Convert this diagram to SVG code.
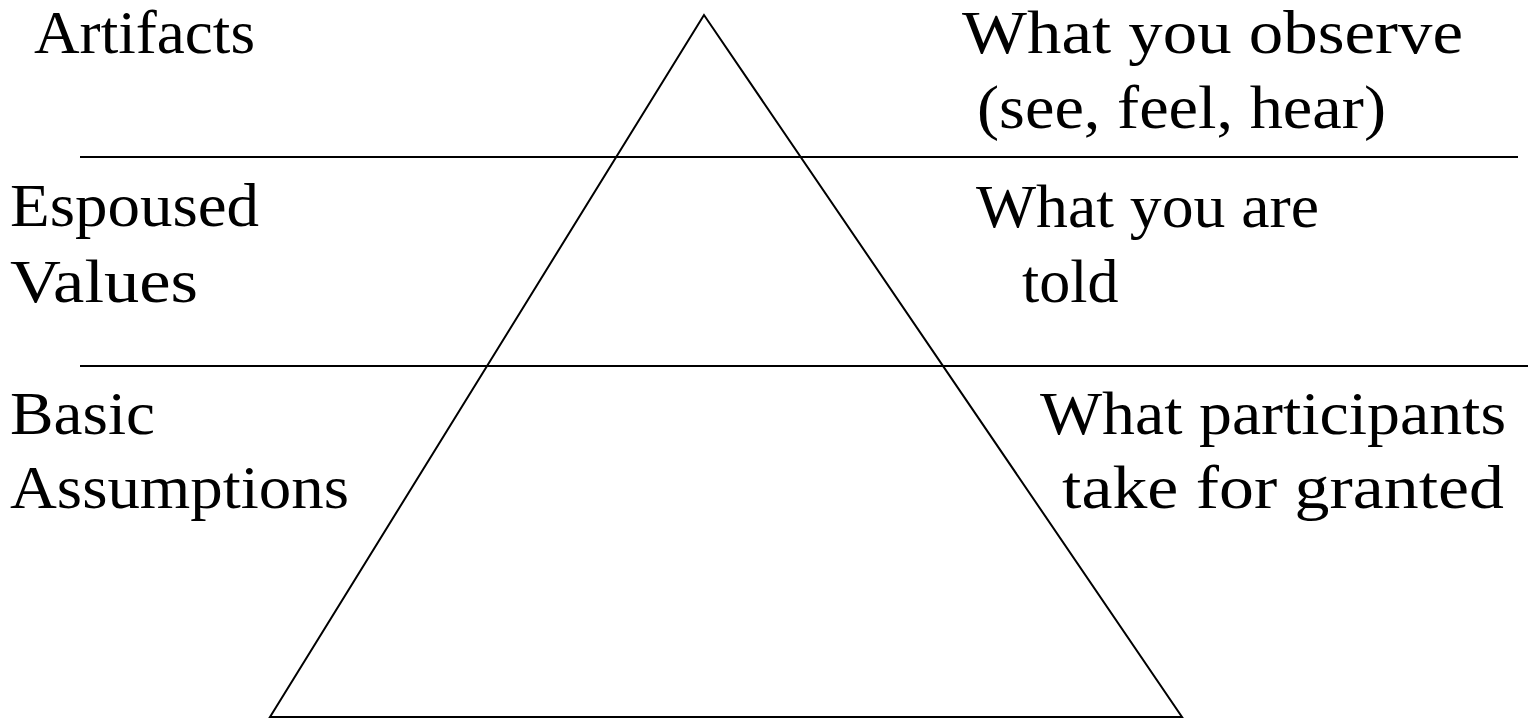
<svg xmlns="http://www.w3.org/2000/svg" width="1528" height="719" viewBox="0 0 1528 719">
<style>
.t{font-family:"Liberation Serif","Times New Roman",serif;font-size:62px;fill:#000}
.l{stroke:#000;stroke-width:2;fill:none}
</style>
<rect width="1528" height="719" fill="#fff"/>
<g id="connectors">
<polygon id="pyramid" class="l" points="704,15 270,717 1182,717"/>
<line class="l" x1="80" y1="157" x2="1518" y2="157"/>
<line class="l" x1="80" y1="366" x2="1528" y2="366"/>
</g>
<g id="artifacts">
<text class="t" x="34" y="53" textLength="221" lengthAdjust="spacingAndGlyphs">Artifacts</text>
<text class="t" x="962" y="53" textLength="501" lengthAdjust="spacingAndGlyphs">What you observe</text>
<text class="t" x="977" y="128" textLength="409" lengthAdjust="spacingAndGlyphs">(see, feel, hear)</text>
</g>
<g id="espoused">
<text class="t" x="10" y="226" textLength="249" lengthAdjust="spacingAndGlyphs">Espoused</text>
<text class="t" x="10" y="302" textLength="188" lengthAdjust="spacingAndGlyphs">Values</text>
<text class="t" x="976" y="227" textLength="343" lengthAdjust="spacingAndGlyphs">What you are</text>
<text class="t" x="1022" y="302">told</text>
</g>
<g id="basic">
<text class="t" x="10" y="434" textLength="145" lengthAdjust="spacingAndGlyphs">Basic</text>
<text class="t" x="10" y="508" textLength="339" lengthAdjust="spacingAndGlyphs">Assumptions</text>
<text class="t" x="1040" y="434" textLength="466" lengthAdjust="spacingAndGlyphs">What participants</text>
<text class="t" x="1062" y="508" textLength="442" lengthAdjust="spacingAndGlyphs">take for granted</text>
</g>
</svg>
